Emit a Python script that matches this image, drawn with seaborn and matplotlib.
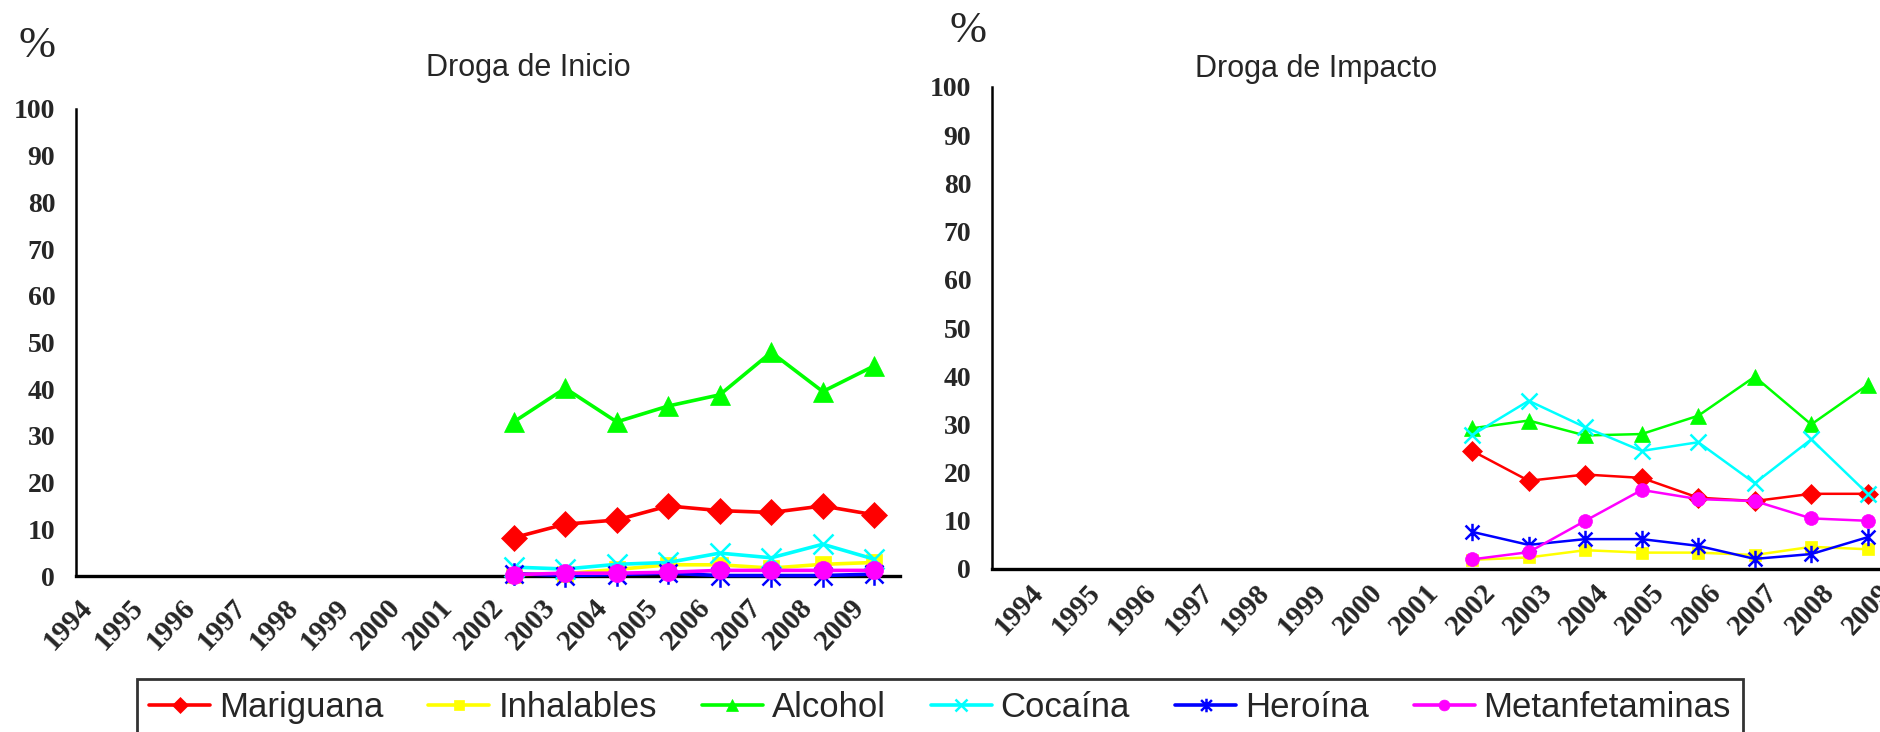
"""Droga de Inicio / Droga de Impacto -- porcentajes 1994-2009."""
import numpy as np
import pandas as pd
import matplotlib
matplotlib.use("Agg")
import matplotlib.pyplot as plt
from matplotlib.path import Path
from matplotlib.transforms import ScaledTranslation
import seaborn as sns

# ------------------------------------------------------------------ #
#  Datos                                                              #
# ------------------------------------------------------------------ #
YEARS      = [str(y) for y in range(1994, 2010)]
DATA_YEARS = [str(y) for y in range(2002, 2010)]

DRUGS = ["Mariguana", "Inhalables", "Alcohol", "Cocaína", "Heroína", "Metanfetaminas"]

inicio_mariguana  = [8.2, 11.1, 12.0, 15.0, 14.0, 13.6, 15.0, 13.1]
inicio_inhalables = [0.3, 0.5, 1.4, 2.4, 2.4, 1.7, 2.5, 2.9]
inicio_alcohol    = [33.0, 40.2, 33.0, 36.4, 38.8, 47.9, 39.5, 45.0]
inicio_cocaina    = [1.9, 1.5, 2.5, 2.9, 4.9, 3.9, 6.8, 3.6]
inicio_heroina    = [0.5, 0.1, 0.3, 0.6, 0.1, 0.1, 0.1, 0.4]
inicio_metanf     = [0.3, 0.6, 0.6, 0.8, 1.2, 1.2, 1.2, 1.2]

impacto_mariguana  = [24.5, 18.3, 19.6, 18.9, 14.8, 14.1, 15.6, 15.6]
impacto_inhalables = [1.9, 2.4, 3.9, 3.4, 3.4, 2.9, 4.6, 4.1]
impacto_alcohol    = [29.2, 30.8, 27.7, 28.0, 31.8, 39.9, 30.0, 38.2]
impacto_cocaina    = [27.8, 34.9, 29.4, 24.5, 26.3, 17.8, 26.9, 15.6]
impacto_heroina    = [7.7, 5.0, 6.2, 6.2, 4.8, 2.1, 3.1, 6.6]
impacto_metanf     = [2.0, 3.5, 10.0, 16.4, 14.5, 14.1, 10.5, 10.0]

INICIO  = [inicio_mariguana, inicio_inhalables, inicio_alcohol,
           inicio_cocaina, inicio_heroina, inicio_metanf]
IMPACTO = [impacto_mariguana, impacto_inhalables, impacto_alcohol,
           impacto_cocaina, impacto_heroina, impacto_metanf]

COLORS = ["#FF0000", "#FFFF00", "#00FF00", "#00FFFF", "#0000FF", "#FF00FF"]

# asterisco estilo Excel : x + trait vertical
STAR = Path(
    [(0, -1), (0, 1), (-0.8, -0.8), (0.8, 0.8), (-0.8, 0.8), (0.8, -0.8)],
    [Path.MOVETO, Path.LINETO, Path.MOVETO, Path.LINETO, Path.MOVETO, Path.LINETO],
)
MARKERS = ["D", "s", "^", "x", STAR, "o"]
# facteur de taille par marqueur (Excel dessine x et * plus grands)
MSCALE  = [1.0, 0.9, 1.15, 1.15, 1.25, 1.0]

SERIF = "Liberation Serif"
SANS  = "Liberation Sans"

W, H, DPI = 1881, 732, 100


def to_long(values):
    rows = []
    for drug, vals in zip(DRUGS, values):
        for year, v in zip(DATA_YEARS, vals):
            rows.append({"Droga": drug, "Year": year, "x": YEARS.index(year), "Pct": v})
    return pd.DataFrame(rows)


def draw_panel(ax, values, ms, lw, label_dx, label_dy):
    df = to_long(values)
    for drug, color, marker, k in zip(DRUGS, COLORS, MARKERS, MSCALE):
        sub = df[df["Droga"] == drug]
        open_marker = marker == "x" or marker is STAR
        sns.lineplot(
            data=sub, x="x", y="Pct", ax=ax,
            color=color, linewidth=lw, label=drug,
            marker=marker, markersize=ms * k,
            markeredgecolor=color, markeredgewidth=1.8 if open_marker else 0.5,
            markerfacecolor="none" if open_marker else color,
            clip_on=False, zorder=3,
        )
    ax.get_legend().remove()

    ax.set_xlim(-0.5, len(YEARS) - 0.5)
    ax.set_ylim(0, 100)
    ax.set_yticks(range(0, 101, 10))
    ax.set_xticks(range(len(YEARS)))
    ax.set_xticklabels(YEARS, rotation=47, ha="right", va="top",
                       rotation_mode="anchor", fontfamily=SERIF,
                       fontweight="bold", fontsize=21)
    ax.set_xticks(np.arange(-0.5, len(YEARS), 1.0), minor=True)
    ax.tick_params(axis="x", which="major", length=0, pad=0)
    ax.tick_params(axis="x", which="minor", length=8, width=1.8, direction="out")
    ax.tick_params(axis="y", length=8, width=1.8, pad=7, direction="out")
    for lab in ax.get_yticklabels():
        lab.set_fontfamily(SERIF)
        lab.set_fontweight("bold")
        lab.set_fontsize(20)
    offset = ScaledTranslation(label_dx / DPI, label_dy / DPI, ax.figure.dpi_scale_trans)
    for lab in ax.get_xticklabels():
        lab.set_transform(lab.get_transform() + offset)

    ax.set_xlabel("")
    ax.set_ylabel("")
    for side in ("top", "right"):
        ax.spines[side].set_visible(False)
    ax.spines["left"].set_linewidth(1.8)
    ax.spines["bottom"].set_linewidth(2.4)
    ax.spines["left"].set_color("black")
    ax.spines["bottom"].set_color("black")
    ax.grid(False)


def main():
    sns.set_style("white")
    fig = plt.figure(figsize=(W / DPI, H / DPI), dpi=DPI)

    # positions en pixels mesurées sur la référence
    ax1 = fig.add_axes([76 / W, 1 - 576 / H, (900 - 76) / W, (576 - 109) / H])
    ax2 = fig.add_axes([992 / W, 1 - 569 / H, (1896 - 992) / W, (569 - 87) / H])

    draw_panel(ax1, INICIO, ms=13, lw=2.6, label_dx=-24, label_dy=-18)
    draw_panel(ax2, IMPACTO, ms=10, lw=1.8, label_dx=9, label_dy=-10)

    fig.text(37 / W, 1 - 46 / H, "%", family=SERIF, fontsize=32,
             ha="center", va="center")
    fig.text(968 / W, 1 - 31 / H, "%", family=SERIF, fontsize=32,
             ha="center", va="center")
    fig.text(528 / W, 1 - 68 / H, "Droga de Inicio", family=SANS, fontsize=22,
             ha="center", va="center")
    fig.text(1316 / W, 1 - 69 / H, "Droga de Impacto", family=SANS, fontsize=22,
             ha="center", va="center")

    handles, labels = ax1.get_legend_handles_labels()
    leg = fig.legend(
        handles, labels, loc="upper left", ncol=6,
        bbox_to_anchor=(137 / W, 1 - 679 / H), borderaxespad=0,
        prop={"family": SANS, "size": 25}, frameon=True, fancybox=False,
        edgecolor="black", handlelength=1.75, handletextpad=0.26,
        columnspacing=1.3, borderpad=0.35, markerscale=0.6,
    )
    leg.get_frame().set_linewidth(2)

    fig.savefig("out.png", dpi=DPI)
    plt.close(fig)


if __name__ == "__main__":
    main()
